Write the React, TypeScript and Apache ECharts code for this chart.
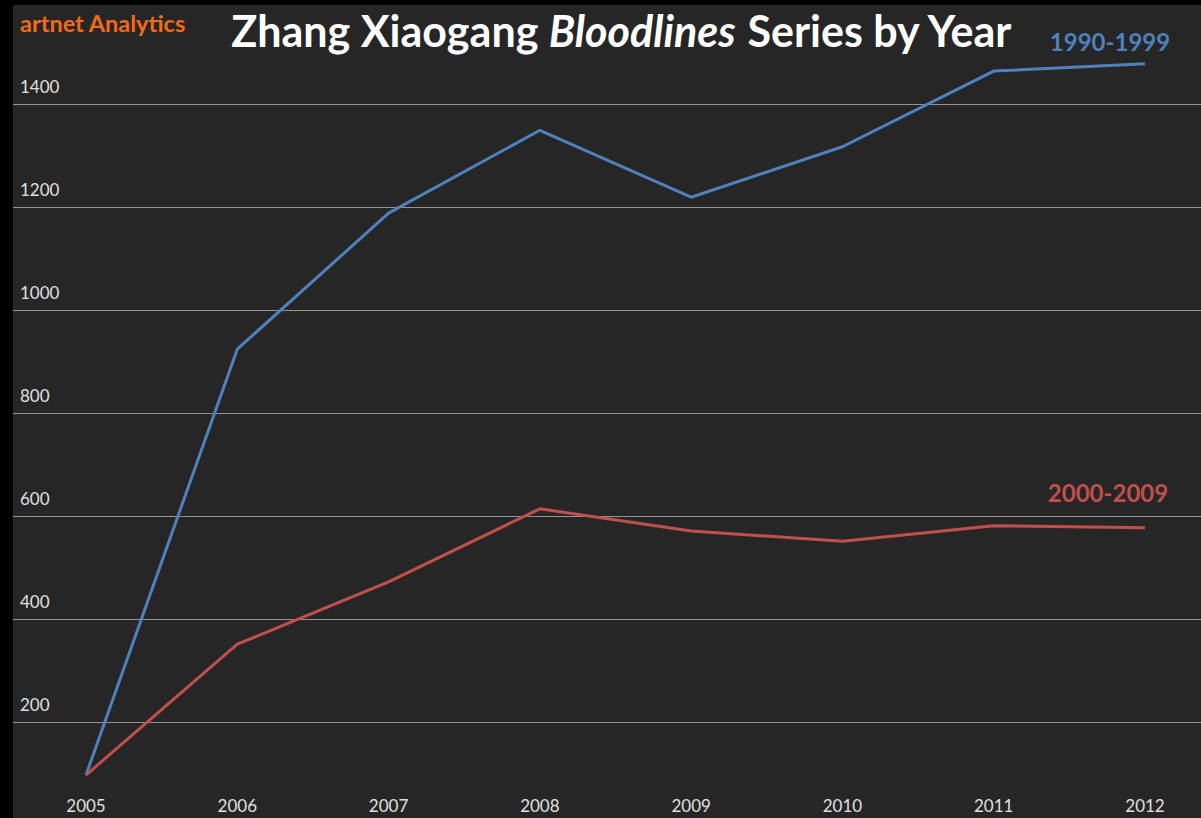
import React, { useEffect, useRef } from "react";
import * as echarts from "echarts";

const years = ["2005", "2006", "2007", "2008", "2009", "2010", "2011", "2012"];
const series1990s = [97, 924, 1188, 1349, 1219, 1317, 1464, 1478];
const series2000s = [97, 351, 472, 614, 571, 551, 581, 577];
const yMin = 0;
const yMax = 1600;
const yInterval = 200;

const FONT = "Lato, 'Open Sans', sans-serif";

export default function App() {
  const ref = useRef<HTMLDivElement>(null);
  useEffect(() => {
    if (!ref.current) return;
    const chart = echarts.init(ref.current, undefined, { renderer: "svg" });
    const gridTop = 1;
    const gridBottom = 15;
    chart.setOption({
      animation: false,
      backgroundColor: "#262626",
      grid: [
        { left: 0, right: 0, top: gridTop, bottom: gridBottom },
        { left: 73, right: 56, top: gridTop, bottom: gridBottom },
      ],
      xAxis: [
        { gridIndex: 0, type: "value", show: false, min: 0, max: 1 },
        {
          gridIndex: 1,
          type: "category",
          data: years,
          boundaryGap: false,
          offset: -20,
          axisLine: { show: false },
          axisTick: { show: false },
          axisLabel: {
            color: "#e0e0e0",
            fontFamily: FONT,
            fontSize: 17,
            margin: 0,
            verticalAlign: "middle",
          },
        },
      ],
      yAxis: [
        {
          gridIndex: 0,
          type: "value",
          min: yMin,
          max: yMax,
          interval: yInterval,
          axisLine: { show: false },
          axisTick: { show: false },
          splitLine: { lineStyle: { color: "#949494", width: 1 } },
          axisLabel: {
            inside: true,
            margin: 7,
            showMinLabel: false,
            showMaxLabel: false,
            color: "#e0e0e0",
            fontFamily: FONT,
            fontSize: 17,
            verticalAlign: "bottom",
            padding: [0, 0, 9, 0],
            formatter: (v: number) => String(v),
          },
        },
        {
          gridIndex: 1,
          type: "value",
          min: yMin,
          max: yMax,
          interval: yInterval,
          show: false,
          splitLine: { show: false },
        },
      ],
      series: [
        {
          name: "1990-1999",
          type: "line",
          xAxisIndex: 1,
          yAxisIndex: 1,
          data: series1990s,
          symbol: "none",
          lineStyle: { color: "#4f81bd", width: 3 },
          itemStyle: { color: "#4f81bd" },
        },
        {
          name: "2000-2009",
          type: "line",
          xAxisIndex: 1,
          yAxisIndex: 1,
          data: series2000s,
          symbol: "none",
          lineStyle: { color: "#c0504d", width: 3 },
          itemStyle: { color: "#c0504d" },
        },
      ],
      graphic: [
        {
          type: "text",
          x: 7,
          y: 23,
          style: {
            text: "artnet Analytics",
            fill: "#f26a1b",
            font: `bold 23.5px ${FONT}`,
            verticalAlign: "middle",
          },
        },
        {
          type: "text",
          x: 609,
          y: 30,
          style: {
            text: "{b|Zhang Xiaogang }{i|Bloodlines}{b| Series by Year}",
            align: "center",
            verticalAlign: "middle",
            rich: {
              b: { fill: "#ffffff", fontFamily: FONT, fontWeight: "bold", fontSize: 43 },
              i: { fill: "#ffffff", fontFamily: FONT, fontWeight: "bold", fontStyle: "italic", fontSize: 43 },
            },
          },
        },
        {
          type: "text",
          x: 1097,
          y: 41,
          style: {
            text: "1990-1999",
            fill: "#4f81bd",
            font: `bold 24px ${FONT}`,
            align: "center",
            verticalAlign: "middle",
          },
        },
        {
          type: "text",
          x: 1095,
          y: 492,
          style: {
            text: "2000-2009",
            fill: "#c0504d",
            font: `bold 24px ${FONT}`,
            align: "center",
            verticalAlign: "middle",
          },
        },
      ],
    });
    return () => chart.dispose();
  }, []);

  return (
    <div style={{ position: "fixed", left: 0, top: 0, width: 1201, height: 818, background: "#000", overflow: "hidden" }}>
      <div
        ref={ref}
        style={{ position: "absolute", left: 13, top: 0, width: 1188, height: 840 }}
      />
      <div style={{ position: "absolute", left: 0, top: 0, width: 1201, height: 5, background: "#000", zIndex: 2 }} />
    </div>
  );
}
